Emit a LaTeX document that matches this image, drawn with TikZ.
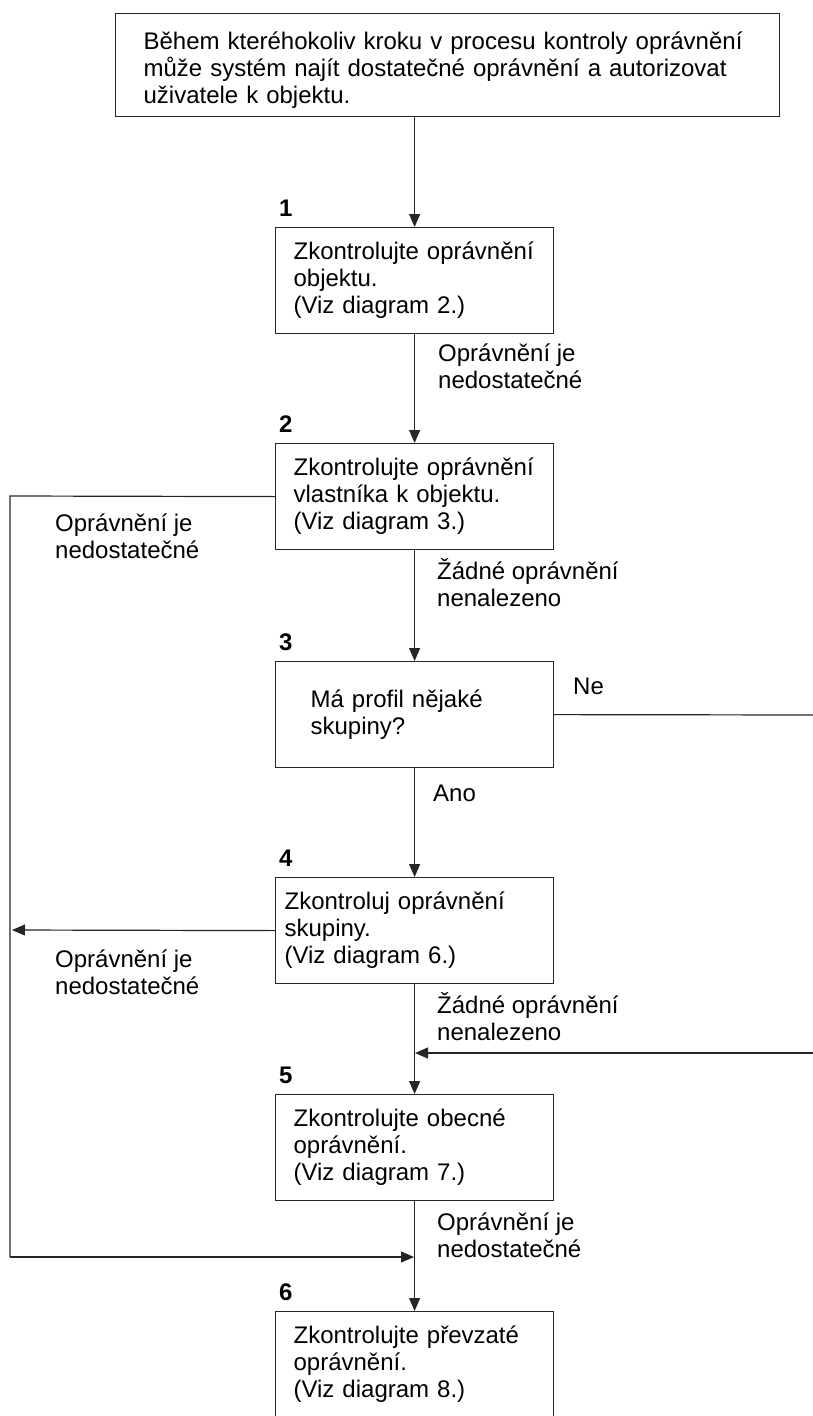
\documentclass[tikz,border=0pt]{standalone}
\usepackage{fontspec}
\setmainfont{Liberation Sans}
\usetikzlibrary{arrows.meta}
\begin{document}
\begin{tikzpicture}[x=1pt,y=-1pt,
  ln/.style={line width=1.2pt, draw=black!85},
  arr/.style={ln, -{Triangle[length=13pt,width=11pt]}},
  box/.style={ln, draw, anchor=north west, minimum width=278pt, minimum height=106pt,
    inner ysep=0pt, align=left, font=\fontsize{24}{27}\selectfont},
  lab/.style={inner sep=0pt, align=left, anchor=base west, font=\fontsize{24}{27}\selectfont},
  num/.style={inner sep=0pt, anchor=base west, font=\fontsize{24}{27}\selectfont\bfseries}]
\useasboundingbox (0,0) rectangle (813,1416);
% boxes
\node[box, minimum width=664pt, minimum height=103pt, inner xsep=28pt, text width=608pt] (top) at (115,13)
  {\rule{0pt}{28pt}Během kteréhokoliv kroku v procesu kontroly oprávnění\\ může systém najít dostatečné oprávnění a autorizovat\\ uživatele k objektu.};
\node[box, inner xsep=18pt, text width=242pt] (b1) at (275,227) {Zkontrolujte oprávnění\\ objektu.\\ (Viz diagram 2.)};
\node[box, inner xsep=18pt, text width=242pt] (b2) at (275,443) {Zkontrolujte oprávnění\\ vlastníka k objektu.\\ (Viz diagram 3.)};
\node[box, inner xsep=35pt, text width=208pt] (b3) at (275,661) {Má profil nějaké\\ skupiny?};
\node[box, inner xsep=9pt, text width=260pt] (b4) at (275,877) {Zkontroluj oprávnění\\ skupiny.\\ (Viz diagram 6.)};
\node[box, inner xsep=18pt, text width=242pt] (b5) at (275,1094) {Zkontrolujte obecné\\ oprávnění.\\ (Viz diagram 7.)};
\node[box, inner xsep=18pt, text width=242pt] (b6) at (275,1311) {Zkontrolujte převzaté\\ oprávnění.\\ (Viz diagram 8.)};
% step numbers
\node[num] (n1) at ([xshift=4pt,yshift=10.5pt]b1.north west) {1};
\node[num] (n2) at ([xshift=4pt,yshift=10.5pt]b2.north west) {2};
\node[num] (n3) at ([xshift=4pt,yshift=10.5pt]b3.north west) {3};
\node[num] (n4) at ([xshift=4pt,yshift=10.5pt]b4.north west) {4};
\node[num] (n5) at ([xshift=4pt,yshift=10.5pt]b5.north west) {5};
\node[num] (n6) at ([xshift=4pt,yshift=10.5pt]b6.north west) {6};
% labels (base = baseline of last line)
\node[lab] (l1) at (438,388) {Oprávnění je\\ nedostatečné};
\node[lab] (l2) at (55,558) {Oprávnění je\\ nedostatečné};
\node[lab] (l3) at (437,606) {Žádné oprávnění\\ nenalezeno};
\node[lab] (lne) at (573,694) {Ne};
\node[lab] (lano) at (433,801) {Ano};
\node[lab] (l4) at (55,994) {Oprávnění je\\ nedostatečné};
\node[lab] (l5) at (437,1040) {Žádné oprávnění\\ nenalezeno};
\node[lab] (l6) at (437,1257) {Oprávnění je\\ nedostatečné};
% helper coordinates
\coordinate (c1) at (10,496);
\coordinate (c2) at (10,1257);
\coordinate (c3) at (414,1257);
\coordinate (c4) at (12,930);
\coordinate (c5) at (813,715);
\coordinate (c6) at (813,1053);
\coordinate (c7) at (415,1053);
% connectors
\draw[arr] (b1.north |- top.south) -- (b1.north);
\draw[arr] (b1.south) -- (b2.north);
\draw[arr] (b2.south) -- (b3.north);
\draw[arr] (b3.south) -- (b4.north);
\draw[arr] (b4.south) -- (b5.north);
\draw[arr] (b5.south) -- (b6.north);
\draw[ln] (b2.west) -- (c1) -- (c2);
\draw[arr] (c2) -- (c3);
\draw[arr] (b4.west) -- (c4);
\draw[ln] (b3.east) -- (c5);
\draw[arr] (c6) -- (c7);
\end{tikzpicture}
\end{document}
